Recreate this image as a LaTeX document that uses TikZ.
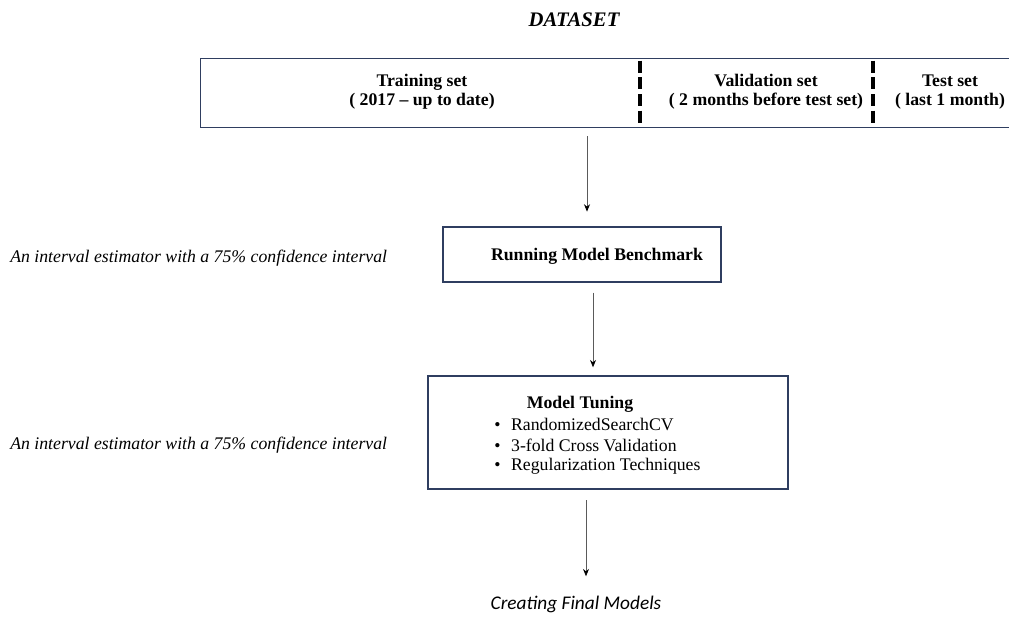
\documentclass[tikz,border=0pt]{standalone}
\usepackage{fontspec}
\setmainfont{Liberation Serif}
\newfontfamily\calibrifont{Carlito}
\usetikzlibrary{positioning,arrows.meta}

\definecolor{boxnavy}{RGB}{47,62,96}
\definecolor{flowgray}{RGB}{90,90,90}

\tikzset{
  box/.style={draw=boxnavy, line width=1.1pt, inner sep=0pt},
  head/.style={font=\bfseries\fontsize{13.3}{14.3}\selectfont, align=center},
  item/.style={font=\fontsize{13.3}{15}\selectfont, anchor=west, inner sep=0pt},
  note/.style={font=\itshape\fontsize{13.3}{15}\selectfont, anchor=west, inner sep=0pt},
  flow/.style={-{Stealth[length=5.5pt,width=4.5pt,black]}, draw=flowgray, line width=0.6pt},
  split/.style={line width=2.6pt, dash pattern=on 9pt off 3.5pt}
}

\begin{document}
\begin{tikzpicture}[x=0.75pt, y=-0.75pt]
  \useasboundingbox (0,0) rectangle (1009,618);

  % Titel
  \node[font=\bfseries\itshape\fontsize{15.5}{17}\selectfont] (title) at (574,20) {DATASET};

  % Datensatz-Box mit drei Teilen
  \node[box, anchor=north west, minimum width=615pt, minimum height=51.75pt] (data) at (200,58) {};
  \node[head] (train) at (422,92) {Training set\\( 2017 -- up to date)};
  \node[head] (valid) at (766,92) {Validation set\\( 2 months before test set)};
  \node[head] (test) at (950,92) {Test set\\( last 1 month)};
  \coordinate (cut1) at (640,0);
  \coordinate (cut2) at (873,0);
  \draw[split] ([yshift=-2pt]data.north -| cut1) -- ([yshift=2pt]data.south -| cut1);
  \draw[split] ([yshift=-2pt]data.north -| cut2) -- ([yshift=2pt]data.south -| cut2);

  % Benchmark
  \node[box, minimum width=208.5pt, minimum height=41.25pt] (bench) at (582,254.5) {};
  \node[head] (benchtxt) at (597,256) {Running Model Benchmark};
  \node[note] (note1) at (10,258) {An interval estimator with a 75\% confidence interval};

  % Tuning
  \node[box, minimum width=270pt, minimum height=84.75pt] (tune) at (608,432.5) {};
  \node[head] (tunetxt) at (580,404) {Model Tuning};
  \node[item] (opt1) at (494,424) {\textbullet\hspace{8pt}RandomizedSearchCV};
  \node[item] (opt2) at (494,445) {\textbullet\hspace{8pt}3-fold Cross Validation};
  \node[item] (opt3) at (494,466) {\textbullet\hspace{8pt}Regularization Techniques};
  \node[note] (note2) at (10,445) {An interval estimator with a 75\% confidence interval};

  % Ergebnis
  \node[font=\calibrifont\itshape\fontsize{14.5}{17}\selectfont] (final) at (576,604) {Creating Final Models};

  % Pfeile
  \coordinate (a1) at (587,0);
  \coordinate (a2) at (593,0);
  \coordinate (a3) at (586,0);
  \draw[flow, shorten <=6pt, shorten >=11pt] (data.south -| a1) -- (bench.north -| a1);
  \draw[flow, shorten <=7.5pt, shorten >=6pt] (bench.south -| a2) -- (tune.north -| a2);
  \draw[flow, shorten <=8pt, shorten >=11pt] (tune.south -| a3) -- (final.north -| a3);
\end{tikzpicture}
\end{document}
